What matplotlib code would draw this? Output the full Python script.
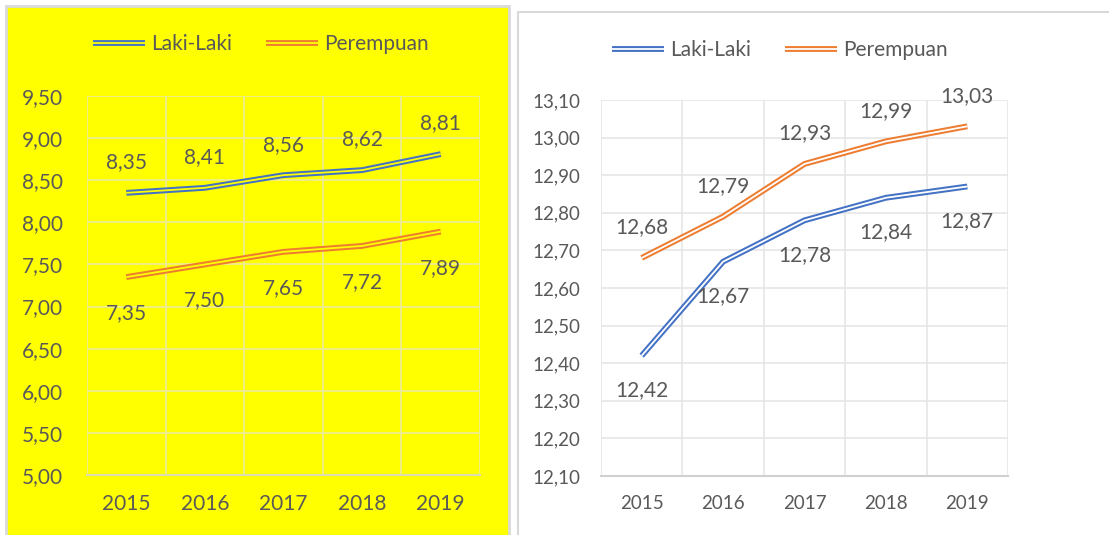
import numpy as np
import matplotlib
matplotlib.use('Agg')
import matplotlib.pyplot as plt
from matplotlib.lines import Line2D
from matplotlib.patches import Rectangle

years = ['2015', '2016', '2017', '2018', '2019']

# left chart
laki_l = [8.35, 8.41, 8.56, 8.62, 8.81]
perempuan_l = [7.35, 7.50, 7.65, 7.72, 7.89]
yticks_l = [5.0, 5.5, 6.0, 6.5, 7.0, 7.5, 8.0, 8.5, 9.0, 9.5]

# right chart
laki_r = [12.42, 12.67, 12.78, 12.84, 12.87]
perempuan_r = [12.68, 12.79, 12.93, 12.99, 13.03]
yticks_r = [12.1, 12.2, 12.3, 12.4, 12.5, 12.6, 12.7, 12.8, 12.9, 13.0, 13.1]

blue = '#4472C4'
orange = '#ED7D31'
txt = '#595959'
W, H = 1109, 535

plt.rcParams['font.family'] = ['Lato', 'DejaVu Sans']
fig = plt.figure(figsize=(W/100, H/100), dpi=100)

def px(x0, y0, x1, y1):
    return [x0/W, 1-y1/H, (x1-x0)/W, (y1-y0)/H]

# panel backgrounds
fig.patches.append(Rectangle((6/W, -0.01), 503/W, 1-6/H+0.01, transform=fig.transFigure,
                             facecolor='#FFFF00', edgecolor='#d9d9d9', lw=2, zorder=-1))
fig.patches.append(Rectangle((518/W, -0.01), 600/W, 1-12/H+0.01, transform=fig.transFigure,
                             facecolor='white', edgecolor='#d9d9d9', lw=1.5, zorder=-1))

def fmt(v):
    return ('%.2f' % v).replace('.', ',')

def dbl(ax, x, y, c, bg, lw1=4.2, lw2=1.3):
    ax.plot(x, y, color=c, lw=lw1, solid_capstyle='butt', zorder=3)
    ax.plot(x, y, color=bg, lw=lw2, solid_capstyle='butt', zorder=4)

def panel(rect, bg, grid, spine, ylim, yt, above, below, fs_tick, ypad, lbl_up, lbl_dn, leg_y, leg_x):
    ax = fig.add_axes(px(*rect))
    ax.set_facecolor('none')
    x = np.arange(len(years))
    dbl(ax, x, above[0], above[1], bg)
    dbl(ax, x, below[0], below[1], bg)
    for xi, v in zip(x, above[0]):
        ax.annotate(fmt(v), (xi, v), xytext=(0, lbl_up), textcoords='offset points',
                    ha='center', va='center', fontsize=15, color=txt)
    for xi, v in zip(x, below[0]):
        ax.annotate(fmt(v), (xi, v), xytext=(0, -lbl_dn), textcoords='offset points',
                    ha='center', va='center', fontsize=15, color=txt)
    ax.set_xlim(-0.5, len(years)-0.5)
    ax.set_ylim(*ylim)
    ax.set_yticks(yt)
    ax.set_yticklabels([fmt(v) for v in yt])
    ax.set_xticks(x)
    ax.set_xticklabels(years)
    ax.set_xticks(np.arange(-0.5, len(years), 1), minor=True)
    ax.grid(True, which='major', axis='y', color=grid, lw=1.2)
    ax.grid(True, which='minor', axis='x', color=grid, lw=1.2)
    ax.tick_params(which='both', length=0, colors=txt, labelsize=fs_tick)
    ax.tick_params(axis='x', pad=14)
    ax.tick_params(axis='y', pad=ypad)
    for s in ['top', 'right', 'left']:
        ax.spines[s].set_visible(False)
    ax.spines['bottom'].set_color(spine)
    ax.spines['bottom'].set_linewidth(1.5)
    ax.set_axisbelow(True)
    hl = []
    for c in [blue, orange]:
        hl.append((Line2D([], [], color=c, lw=4.2, solid_capstyle='butt'),
                   Line2D([], [], color=bg, lw=1.3, solid_capstyle='butt')))
    fig.legend(hl, ['Laki-Laki', 'Perempuan'], loc='center', bbox_to_anchor=(leg_x/W, 1-leg_y/H),
               ncol=2, frameon=False, fontsize=15, labelcolor=txt, handlelength=2.5,
               columnspacing=1.6, handletextpad=0.3)
    return ax

panel((87, 96, 480, 475), '#FFFF00', '#ecec9c', '#dcdcb0',
      (5.0, 9.5), yticks_l, (laki_l, blue), (perempuan_l, orange), 15, 17, 22, 26, 44, 261)
panel((601, 100, 1008, 476), 'white', '#e6e6e6', '#d0d0d0',
      (12.1, 13.1), yticks_r, (perempuan_r, orange), (laki_r, blue), 13.5, 15, 22, 25, 50, 780)

fig.savefig('out.png', dpi=100)
